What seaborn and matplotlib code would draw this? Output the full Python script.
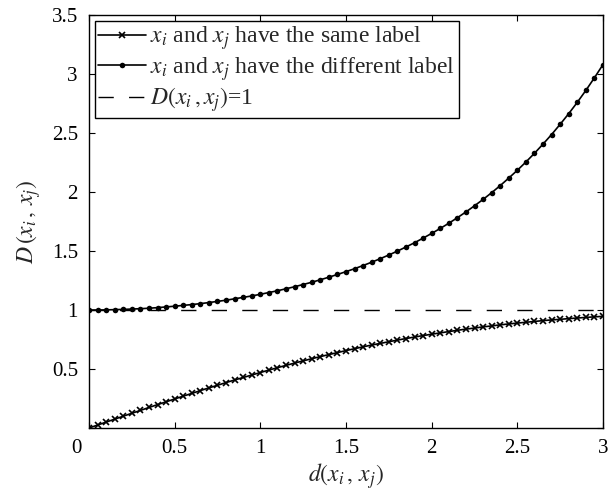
import numpy as np
import pandas as pd
import matplotlib
matplotlib.use('Agg')
import matplotlib.pyplot as plt
import matplotlib.transforms as mtransforms
import seaborn as sns

# distance values d(x_i, x_j), step 0.05 from 0 to 3
d_values = [round(0.05 * k, 2) for k in range(61)]

# D(x_i, x_j) for pairs with the same label (x markers)
same_label = [0.000, 0.025, 0.050, 0.075, 0.100, 0.125, 0.149, 0.174, 0.198, 0.222,
              0.246, 0.270, 0.293, 0.317, 0.340, 0.362, 0.385, 0.407, 0.428, 0.449,
              0.470, 0.491, 0.511, 0.531, 0.550, 0.569, 0.587, 0.605, 0.622, 0.639,
              0.656, 0.672, 0.688, 0.703, 0.717, 0.731, 0.745, 0.758, 0.771, 0.783,
              0.795, 0.806, 0.817, 0.828, 0.838, 0.847, 0.857, 0.865, 0.874, 0.882,
              0.889, 0.896, 0.903, 0.910, 0.916, 0.921, 0.927, 0.932, 0.937, 0.942,
              0.946]

# D(x_i, x_j) for pairs with different labels (dot markers)
diff_label = [1.000, 1.000, 1.001, 1.003, 1.005, 1.008, 1.011, 1.015, 1.020, 1.026,
              1.032, 1.039, 1.046, 1.054, 1.063, 1.073, 1.083, 1.095, 1.107, 1.119,
              1.133, 1.148, 1.163, 1.180, 1.197, 1.216, 1.235, 1.256, 1.278, 1.301,
              1.325, 1.350, 1.377, 1.405, 1.435, 1.466, 1.499, 1.534, 1.570, 1.609,
              1.649, 1.691, 1.735, 1.782, 1.831, 1.883, 1.937, 1.994, 2.054, 2.118,
              2.184, 2.254, 2.328, 2.406, 2.487, 2.574, 2.664, 2.760, 2.861, 2.968,
              3.080]

ref_level = 1

x_ticks = [0, 0.5, 1, 1.5, 2, 2.5, 3]
x_tick_labels = ['0', '0.5', '1', '1.5', '2', '2.5', '3']
y_ticks = [0, 0.5, 1, 1.5, 2, 2.5, 3, 3.5]
y_tick_labels = ['', '0.5', '1', '1.5', '2', '2.5', '3', '3.5']

df = pd.DataFrame({'d': d_values, 'same': same_label, 'diff': diff_label})

sns.set_style('ticks')
plt.rcParams['font.family'] = ['Liberation Serif', 'DejaVu Serif']
plt.rcParams['mathtext.fontset'] = 'stix'

fig = plt.figure(figsize=(6.15, 4.91), dpi=100)
ax = fig.add_axes([0.1447, 0.1283, 0.8358, 0.8412])

sns.lineplot(data=df, x='d', y='same', ax=ax, color='black', linewidth=1.2,
             marker='x', markersize=5, markeredgewidth=1.2,
             markeredgecolor='black', sort=False,
             label=r'$x_i$ and $x_j$ have the same label')
sns.lineplot(data=df, x='d', y='diff', ax=ax, color='black', linewidth=1.2,
             marker='o', markersize=4, markeredgewidth=0,
             markeredgecolor='black', markerfacecolor='black', sort=False,
             label=r'$x_i$ and $x_j$ have the different label')
ax.axhline(ref_level, color='black', linewidth=1.0, dashes=(11, 11),
           label=r'$D(x_i\,,x_j)$=1')

ax.set_xlim(0, 3)
ax.set_ylim(0, 3.5)
ax.set_xticks(x_ticks)
ax.set_xticklabels(x_tick_labels)
ax.set_yticks(y_ticks)
ax.set_yticklabels(y_tick_labels)
ax.tick_params(direction='in', top=True, right=True, labelsize=15, length=4,
               width=0.8, color='black', labelcolor='black', pad=8)

# the "0" under the origin sits a little to the left in the reference
x0_label = ax.get_xticklabels()[0]
x0_label.set_transform(x0_label.get_transform() +
                       mtransforms.ScaledTranslation(-0.13, 0, fig.dpi_scale_trans))

for spine in ax.spines.values():
    spine.set_visible(True)
    spine.set_color('black')
    spine.set_linewidth(1.0)

ax.set_xlabel(r'$d(x_i\,,\,x_j)$', fontsize=17, labelpad=2)
ax.set_ylabel(r'$D\,(x_i\,,\,x_j)$', fontsize=17, labelpad=6)

leg = ax.legend(loc='upper left', fontsize=17, frameon=True, fancybox=False,
                edgecolor='black', framealpha=1, borderaxespad=0.25,
                handlelength=2.0, handletextpad=0.2, labelspacing=0.12,
                borderpad=0.15, numpoints=1)
leg.get_frame().set_linewidth(1.0)

fig.savefig('out.png', dpi=100)
